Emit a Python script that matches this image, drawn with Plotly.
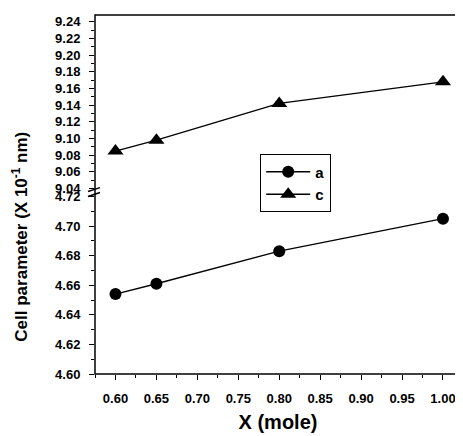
import plotly.graph_objects as go

# composition and cell parameters (X 10^-1 nm)
x_mole = [0.60, 0.65, 0.80, 1.00]
param_a = [4.654, 4.661, 4.683, 4.705]
param_c = [9.085, 9.098, 9.142, 9.168]

x_ticks = [0.60, 0.65, 0.70, 0.75, 0.80, 0.85, 0.90, 0.95, 1.00]
low_ticks = [4.60, 4.62, 4.64, 4.66, 4.68, 4.70, 4.72]
high_ticks = [9.04, 9.06, 9.08, 9.10, 9.12, 9.14, 9.16, 9.18, 9.20, 9.22, 9.24]

# page body adds an 8px margin, so the figure is shrunk by that much
OFF = 8
W, H = 463 - OFF, 436 - OFF
L, R, T, B = 95 - OFF, 2, 0, 62
pw, ph = W - L - R, H - T - B


def px(xp):
    # reference pixel x -> paper fraction
    return (xp - OFF - L) / pw


def py(yp):
    # reference pixel y -> paper fraction
    return (H - B - (yp - OFF)) / ph


tickfont = dict(family="Liberation Sans", size=13, color="black", weight="bold")

fig = go.Figure()
fig.add_trace(go.Scatter(x=x_mole, y=param_a, name="a", mode="lines+markers",
                         line=dict(color="black", width=1.3),
                         marker=dict(symbol="circle", size=12, color="black"),
                         xaxis="x", yaxis="y"))
fig.add_trace(go.Scatter(x=x_mole, y=param_c, name="c", mode="lines+markers",
                         line=dict(color="black", width=1.3),
                         marker=dict(symbol="triangle-up", size=14, color="black"),
                         xaxis="x", yaxis="y2"))

fig.update_layout(
    width=W, height=H,
    margin=dict(l=L, r=R, t=T, b=B, pad=0),
    paper_bgcolor="white", plot_bgcolor="white",
    showlegend=True,
    legend=dict(x=px(260), y=py(150), xanchor="left", yanchor="top",
                bordercolor="black", borderwidth=1.2, bgcolor="white",
                font=dict(family="Liberation Sans", size=15, color="black", weight="bold"),
                tracegroupgap=0, itemwidth=44),
    xaxis=dict(range=[0.575, 1.022], tickvals=x_ticks, ticktext=["%.2f" % v for v in x_ticks],
               ticks="outside", ticklen=5, tickwidth=1.2, tickcolor="black", ticklabelstandoff=7,
               minor=dict(dtick=0.025, tick0=0.575, ticks="outside", ticklen=3, tickcolor="black"),
               showgrid=False, zeroline=False, showline=False, tickfont=tickfont,
               title=dict(text="X (mole)",
                          font=dict(family="Liberation Sans", size=20, color="black", weight="bold"),
                          standoff=10)),
    yaxis=dict(domain=[0, py(193)], range=[4.60, 4.72], tickvals=low_ticks,
               ticktext=["%.2f" % v for v in low_ticks],
               ticks="outside", ticklen=5, tickwidth=1.2, tickcolor="black", ticklabelstandoff=6,
               minor=dict(dtick=0.01, tick0=4.60, ticks="outside", ticklen=3, tickcolor="black"),
               showgrid=False, zeroline=False, showline=False, tickfont=tickfont, anchor="x"),
    yaxis2=dict(domain=[py(185), 1], range=[9.04, 9.248], tickvals=high_ticks,
                ticktext=["%.2f" % v for v in high_ticks],
                ticks="outside", ticklen=5, tickwidth=1.2, tickcolor="black", ticklabelstandoff=6,
                minor=dict(dtick=0.01, tick0=9.04, ticks="outside", ticklen=3, tickcolor="black"),
                showgrid=False, zeroline=False, showline=False, tickfont=tickfont, anchor="x"),
)

# frame
fig.add_shape(type="rect", xref="paper", yref="paper", x0=0, x1=1, y0=0, y1=1,
              line=dict(color="black", width=1.5), layer="above")
# axis break marks
for y0 in (188, 193):
    fig.add_shape(type="line", xref="paper", yref="paper",
                  x0=px(88), y0=py(y0), x1=px(100), y1=py(y0 - 4),
                  line=dict(color="black", width=1.5))

fig.add_annotation(text="Cell parameter (X 10<sup>-1</sup> nm)", xref="paper", yref="paper",
                   x=px(20), y=py(234), xanchor="center", yanchor="middle",
                   textangle=-90, showarrow=False,
                   font=dict(family="Liberation Sans", size=17, color="black", weight="bold"))

fig.write_html("out.html")
